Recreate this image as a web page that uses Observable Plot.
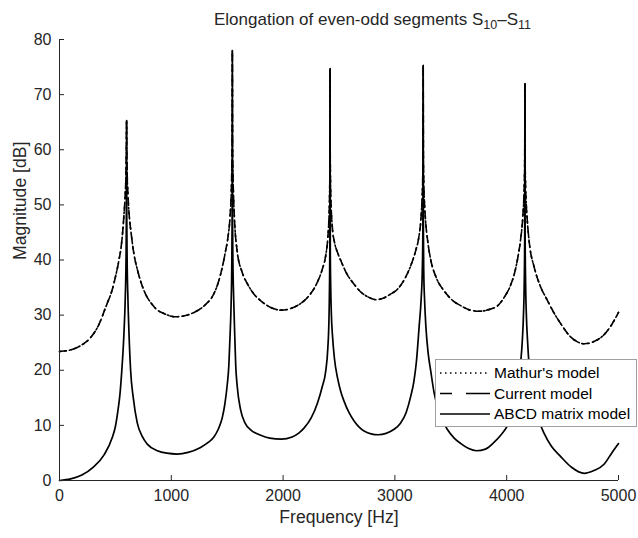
<!DOCTYPE html>
<html><head><meta charset="utf-8">
<script src="https://cdn.jsdelivr.net/npm/d3@7"></script>
<script src="https://cdn.jsdelivr.net/npm/@observablehq/plot@0.6"></script>
<style>html,body{margin:0;padding:0;background:#fff}</style>
</head><body><div id="chart"></div>
<script>
// Upper curve (Mathur's model and Current model overlap)
const upperFreq = [
  0,100,200,277,350,420,470,501,530,555,576,588,595,598,600,
  602,605,612,624,640,665,700,725,780,815,870,934,1000,1040,1100,1170,1232,1300,1381,1420,1456,1486,1506,1526,1536,1541,1544,1546,
  1548,1551,1556,1566,1590,1630,1680,1740,1800,1900,1985,2080,2187,2250,2307,2350,2381,2400,2410,2415,2418,2420,
  2422,2425,2430,2440,2460,2490,2516,2570,2635,2700,2760,2830,2900,2960,3023,3080,3142,3190,3213,3233,3243,3248,3251,3253,
  3255,3258,3263,3273,3293,3321,3370,3440,3520,3590,3660,3754,3840,3919,3980,4038,4075,4100,4123,4143,4153,4158,4161,4163,
  4165,4168,4173,4183,4203,4246,4300,4366,4420,4485,4560,4620,4694,4780,4873,4940,5000
];
const upperDb = [
  23.4,23.7,24.6,25.9,28.2,31.8,34.5,37,39.8,43,48,52,56,60,65.3,
  60,56,52,48,45,41.2,38,36.2,33.4,32.3,31,30.3,29.8,29.7,29.8,30.2,30.8,31.8,33.9,35.9,38.7,41.7,44,48,52,56,60,78.0,
  60,56,52,47,41.5,38,35.7,33.8,32.6,31.3,30.9,31.3,32.6,34,36,38.3,40.8,44,47.5,51,56,74.7,
  58,53,49.5,46,43.2,41.2,39.9,37.5,35.6,34.1,33.3,32.8,33.1,33.8,34.7,36.3,39,42,44,47.5,51,54,58,75.3,
  58,54,51,47.5,43.5,40,36.8,34.4,32.6,31.7,31,30.7,31,31.7,33.3,35.6,38,40.5,43.5,47.5,51,54,58,72.0,
  58,54,51,47.5,43,38.7,35.3,32.6,30.5,28.4,26.3,25.3,24.8,25.2,26.5,28.3,30.5
];
// Lower curve (ABCD matrix model)
const abcdFreq = [
  0,100,200,300,400,472,500,522,540,555,576,588,595,598,600,
  602,605,612,622,636,660,695,740,785,875,960,1053,1150,1262,1330,1381,1420,1456,1480,1501,1515,1525,1535,1541,1544,1546,
  1548,1551,1558,1568,1576,1590,1620,1660,1710,1800,1880,1985,2080,2140,2187,2250,2307,2350,2381,2400,2410,2415,2418,2420,
  2422,2426,2432,2441,2460,2486,2515,2545,2590,2635,2724,2850,2993,3050,3100,3142,3170,3192,3217,3235,3245,3250,3253,
  3255,3258,3265,3277,3298,3321,3350,3390,3430,3471,3530,3590,3660,3730,3810,3886,3950,4006,4050,4082,4105,4121,4140,4150,4157,4161,4163,
  4165,4169,4176,4186,4202,4222,4246,4290,4336,4400,4485,4580,4694,4780,4873,4940,5000
];
const abcdDb = [
  0.0,0.3,1.0,2.4,4.7,7.8,9.8,12.6,15.5,19.3,26.5,33,40,47,65.3,
  47,40,33,26.5,20,15,10.5,8,6.6,5.4,4.95,4.8,5.1,6.0,6.9,7.9,9.3,11.4,14,17.5,21,26,32,39,47,78.0,
  47,40,33,26,21,17,12.8,10.4,9.2,8.2,7.7,7.5,7.9,8.6,9.5,11.3,14,17,19.8,24,29,35,42,74.7,
  42,35,30,26.5,22,18.7,16.2,14.4,12.3,10.8,9.0,8.3,9.3,10.4,12.3,15.3,18,21.5,28,33,38,45,75.3,
  45,38,33,28,23,19.8,16,12.8,10.7,9.2,7.7,6.7,5.8,5.4,5.7,6.9,8.3,9.9,12,14.4,17,20.5,25.5,30,36,44,72.0,
  44,36,30,25.5,20.5,17,14.4,10.8,8.5,6.2,4.3,2.4,1.3,1.8,3.0,5.0,6.7
];
const seriesNames = ["Mathur's model", "Current model", "ABCD matrix model"];
const xTicks = [0, 1000, 2000, 3000, 4000, 5000];
const yTicks = [0, 10, 20, 30, 40, 50, 60, 70, 80];
const titleMain = "Elongation of even-odd segments S";
const titleSub1 = "10";
const titleSub2 = "11";
const xLabel = "Frequency [Hz]";
const yLabel = "Magnitude [dB]";

const mathur = upperFreq.map((f, i) => ({f, db: upperDb[i], s: seriesNames[0]}));
const current = upperFreq.map((f, i) => ({f, db: upperDb[i], s: seriesNames[1]}));
const abcd = abcdFreq.map((f, i) => ({f, db: abcdDb[i], s: seriesNames[2]}));

const W = 638, H = 538, mL = 59, mR = 20, mT = 39, mB = 58;
const axisColor = "#262626";
const font = "'Liberation Sans', Arial, Helvetica, sans-serif";
const lineDash = ["1.5,3.5", "7,5", null];

const chart = Plot.plot({
  width: W, height: H,
  marginLeft: mL, marginRight: mR, marginTop: mT, marginBottom: mB,
  style: {fontFamily: font, fontSize: "16px", color: axisColor, background: "white", overflow: "visible"},
  x: {domain: [0, 5000]},
  y: {domain: [0, 80]},
  marks: [
    Plot.line(mathur, {x: "f", y: "db", curve: "monotone-x", stroke: "black", strokeWidth: 1.6, strokeDasharray: lineDash[0]}),
    Plot.line(current, {x: "f", y: "db", curve: "monotone-x", stroke: "black", strokeWidth: 1.6, strokeDasharray: lineDash[1]}),
    Plot.line(abcd, {x: "f", y: "db", curve: "monotone-x", stroke: "black", strokeWidth: 1.7}),
    Plot.ruleY([0], {stroke: axisColor}),
    Plot.ruleX([0], {stroke: axisColor}),
    Plot.tickX(xTicks, {x: d => d, stroke: axisColor, insetTop: H - mT - mB - 5}),
    Plot.tickY(yTicks, {y: d => d, stroke: axisColor, insetRight: W - mL - mR - 5}),
    Plot.axisX({ticks: xTicks, tickSize: 0, tickPadding: 9, tickFormat: d3.format("d"), label: null, fill: axisColor, fontSize: 16}),
    Plot.axisY({ticks: yTicks, tickSize: 0, tickPadding: 8, label: null, fill: axisColor, fontSize: 16}),
    Plot.text([xLabel], {frameAnchor: "bottom", dy: 42, fill: axisColor, fontSize: 17.6}),
    Plot.text([yLabel], {frameAnchor: "left", rotate: -90, dx: -39, fill: axisColor, fontSize: 17.6})
  ]
});
document.getElementById("chart").appendChild(chart);

const svg = d3.select(chart);
// Title with subscripts
const title = svg.append("text")
  .attr("x", 214).attr("y", 25)
  .attr("text-anchor", "start")
  .attr("font-family", font).attr("font-size", 17).attr("fill", axisColor);
title.append("tspan").text(titleMain);
title.append("tspan").attr("font-size", 12.5).attr("dy", 4).text(titleSub1);
title.append("tspan").attr("dy", -4).text("–S");
title.append("tspan").attr("font-size", 12.5).attr("dy", 4).text(titleSub2);

// Legend
const lg = svg.append("g").attr("font-family", font).attr("font-size", 15.5).attr("fill", "black").attr("text-anchor", "start");
lg.append("rect").attr("x", 435.5).attr("y", 359.5).attr("width", 201).attr("height", 67)
  .attr("fill", "white").attr("stroke", "#a0a0a0").attr("stroke-width", 1);
const legendDash = ["1.5,3.5", "12,14,24,10", null];
seriesNames.forEach((name, i) => {
  const cy = 373 + i * 20.5;
  const ln = lg.append("line").attr("x1", 440).attr("x2", 490).attr("y1", cy).attr("y2", cy)
    .attr("stroke", "black").attr("stroke-width", 1.6);
  if (legendDash[i]) ln.attr("stroke-dasharray", legendDash[i]);
  lg.append("text").attr("x", 494).attr("y", cy).attr("dy", "0.35em").attr("text-anchor", "start").text(name);
});
</script>
</body></html>
